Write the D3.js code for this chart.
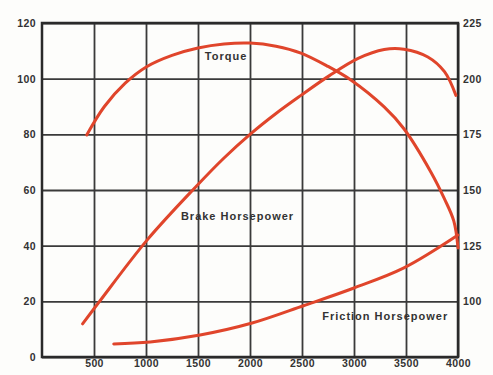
<!DOCTYPE html>
<html>
<head>
<meta charset="utf-8">
<script src="https://cdn.jsdelivr.net/npm/d3@7"></script>
<style>
  body { margin: 0; background: #fdfdfb; }
  svg text { font-family: "Liberation Sans", Arial, sans-serif; font-weight: bold; fill: #333; }
</style>
</head>
<body>
<div id="chart"></div>
<script>
const width = 493;
const height = 375;
const margin = { top: 23, right: 35, bottom: 18, left: 42 };

// engine speed (rpm) ticks and axis labels
const rpmTicks = [500, 1000, 1500, 2000, 2500, 3000, 3500, 4000];
const hpTicks = [0, 20, 40, 60, 80, 100, 120];
const torqueTicks = [100, 125, 150, 175, 200, 225];

// curves
const torqueRpm = [430, 600, 800, 1010, 1250, 1500, 1750, 2000, 2250, 2490, 2750, 2970, 3290, 3480, 3740, 3870, 3960, 4000];
const torqueVal = [174.7, 187.5, 198, 205.5, 210.5, 213.8, 215.6, 216, 214.6, 211.5, 205.5, 199.4, 187.3, 177.5, 158, 146, 136, 124];

const brakeRpm = [390, 550, 1010, 1475, 1750, 2000, 2250, 2490, 2760, 3040, 3290, 3480, 3710, 3870, 3980];
const brakeHp = [11.9, 19.8, 42, 61, 71.5, 80, 87.5, 94, 101, 107.3, 110.5, 110.6, 107.8, 102.5, 94];

const frictionRpm = [690, 1040, 1520, 2020, 2520, 3000, 3480, 4000];
const frictionHp = [4.7, 5.4, 7.9, 12.2, 18.5, 24.8, 32, 43.8];

const svg = d3
  .select("#chart")
  .append("svg")
  .attr("width", width)
  .attr("height", height);

const x = d3
  .scaleLinear()
  .domain([0, 4000])
  .range([margin.left, width - margin.right]);

const yLeft = d3
  .scaleLinear()
  .domain([0, 120])
  .range([height - margin.bottom, margin.top]);

const yRight = d3
  .scaleLinear()
  .domain([75, 225])
  .range([height - margin.bottom, margin.top]);

const innerWidth = width - margin.left - margin.right;
const innerHeight = height - margin.top - margin.bottom;
const fmt = d3.format("d");

// horizontal grid + left labels
svg
  .append("g")
  .attr("class", "y-axis")
  .attr("transform", `translate(${margin.left},0)`)
  .call(d3.axisLeft(yLeft).tickValues(hpTicks).tickFormat(fmt).tickSize(-innerWidth).tickPadding(6))
  .call((g) => g.select(".domain").remove());

// vertical grid + bottom labels
svg
  .append("g")
  .attr("class", "x-axis")
  .attr("transform", `translate(0,${height - margin.bottom})`)
  .call(d3.axisBottom(x).tickValues(rpmTicks).tickFormat(fmt).tickSize(-innerHeight).tickPadding(3))
  .call((g) => g.select(".domain").remove());

// right labels (torque scale)
svg
  .append("g")
  .attr("class", "y-right")
  .attr("transform", `translate(${width - margin.right},0)`)
  .call(d3.axisRight(yRight).tickValues(torqueTicks).tickFormat(fmt).tickSize(0).tickPadding(5))
  .call((g) => g.select(".domain").remove());

svg.selectAll(".tick line").attr("stroke", "#3a3a3a").attr("stroke-width", 1.8);
svg
  .selectAll(".tick text")
  .attr("font-size", 10.5)
  .attr("letter-spacing", 0.4)
  .attr("fill", "#333");

// frame
svg
  .append("rect")
  .attr("x", margin.left)
  .attr("y", margin.top)
  .attr("width", innerWidth)
  .attr("height", innerHeight)
  .attr("fill", "none")
  .attr("stroke", "#2a2a2a")
  .attr("stroke-width", 2.5);

const curveColor = "#e0452b";

function drawCurve(xs, ys, yScale) {
  const pts = xs.map((d, i) => [d, ys[i]]);
  const line = d3
    .line()
    .x((d) => x(d[0]))
    .y((d) => yScale(d[1]))
    .curve(d3.curveCatmullRom.alpha(0.5));
  svg
    .append("path")
    .datum(pts)
    .attr("fill", "none")
    .attr("stroke", curveColor)
    .attr("stroke-width", 3)
    .attr("stroke-linecap", "round")
    .attr("d", line);
}

drawCurve(torqueRpm, torqueVal, yRight);
drawCurve(brakeRpm, brakeHp, yLeft);
drawCurve(frictionRpm, frictionHp, yLeft);

// curve labels
const labels = [
  { text: "Torque", rpm: 1770, hp: 107.8 },
  { text: "Brake Horsepower", rpm: 1880, hp: 50.3 },
  { text: "Friction Horsepower", rpm: 3300, hp: 14.5 },
];

svg
  .selectAll(".curve-label")
  .data(labels)
  .join("text")
  .attr("class", "curve-label")
  .attr("x", (d) => x(d.rpm))
  .attr("y", (d) => yLeft(d.hp))
  .attr("text-anchor", "middle")
  .attr("dominant-baseline", "middle")
  .attr("font-size", 11)
  .attr("letter-spacing", 1)
  .text((d) => d.text);
</script>
</body>
</html>
